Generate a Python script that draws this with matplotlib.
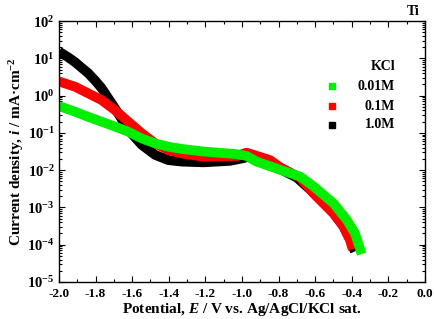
import matplotlib
matplotlib.use("Agg")
import matplotlib.pyplot as plt
from matplotlib.ticker import FuncFormatter, MultipleLocator, LogLocator, NullFormatter, FixedLocator
import numpy as np

plt.rcParams['font.family'] = ['Liberation Serif', 'DejaVu Serif']
plt.rcParams['font.weight'] = 'bold'
plt.rcParams['axes.unicode_minus'] = False
plt.rcParams['mathtext.fontset'] = 'custom'
plt.rcParams['mathtext.rm'] = 'Liberation Serif:bold'
plt.rcParams['mathtext.bf'] = 'Liberation Serif:bold'
plt.rcParams['mathtext.it'] = 'Liberation Serif:italic:bold'
plt.rcParams['mathtext.default'] = 'bf'

black_E = [-2.0, -1.95, -1.913, -1.84, -1.8, -1.767, -1.694, -1.621, -1.548, -1.475, -1.403,
           -1.33, -1.211, -1.066, -0.995, -0.95, -0.9, -0.8, -0.7, -0.61, -0.5, -0.446,
           -0.41, -0.39, -0.383]
black_logi = [1.18, 1.03, 0.9, 0.6, 0.39, 0.2, -0.34, -0.92, -1.32, -1.59, -1.73,
              -1.77, -1.79, -1.75, -1.68, -1.62, -1.7, -1.95, -2.2, -2.6, -3.15, -3.5,
              -3.85, -4.1, -4.18]

red_E = [-2.0, -1.913, -1.84, -1.767, -1.694, -1.621, -1.548, -1.475, -1.403, -1.33, -1.211,
         -1.029, -0.975, -0.847, -0.792, -0.683, -0.61, -0.5, -0.446, -0.41, -0.395]
red_logi = [0.38, 0.24, 0.06, -0.12, -0.39, -0.7, -1.01, -1.28, -1.46, -1.55, -1.64,
            -1.62, -1.53, -1.73, -1.92, -2.2, -2.62, -3.16, -3.51, -3.87, -4.12]

green_E = [-2.0, -1.913, -1.84, -1.767, -1.694, -1.621, -1.548, -1.475, -1.403, -1.33, -1.211,
           -1.029, -0.975, -0.92, -0.792, -0.683, -0.61, -0.5, -0.428, -0.383, -0.359, -0.346]
green_logi = [-0.28, -0.43, -0.57, -0.7, -0.83, -0.97, -1.15, -1.28, -1.37, -1.43, -1.5,
              -1.57, -1.62, -1.77, -1.99, -2.17, -2.43, -2.89, -3.33, -3.69, -4.05, -4.25]

labels = ["0.01M", "0.1M", "1.0M"]
colors = ["#00ee00", "#ff0000", "#000000"]
legend_title = "KCl"
panel_label = "Ti"
y_decades = list(range(-5, 3))
x_ticks = [-2.0, -1.8, -1.6, -1.4, -1.2, -1.0, -0.8, -0.6, -0.4, -0.2, 0.0]

fig = plt.figure(figsize=(4.35, 3.19), dpi=100)
ax = fig.add_axes([0.1356, 0.116, 0.8414, 0.818])

series = [(black_E, black_logi, colors[2]),
          (red_E, red_logi, colors[1]),
          (green_E, green_logi, colors[0])]
for E, li, c in series:
    ax.plot(E, 10 ** np.array(li), color=c, lw=7, solid_capstyle='butt',
            solid_joinstyle='round')

ax.set_yscale('log')
ax.set_xlim(-2.0, 0.0)
ax.set_xticks(x_ticks)
ax.xaxis.set_minor_locator(MultipleLocator(0.1))
ax.xaxis.set_major_formatter(FuncFormatter(lambda v, p: "0.0" if abs(v) < 1e-9 else f"{v:.1f}"))
ax.yaxis.set_major_locator(FixedLocator([10.0 ** k for k in y_decades]))
ax.yaxis.set_minor_locator(LogLocator(base=10, subs=np.arange(2, 10), numticks=20))
ax.yaxis.set_minor_formatter(NullFormatter())
ax.yaxis.set_major_formatter(FuncFormatter(lambda v, p: r"$\mathbf{10^{%d}}$" % int(round(np.log10(v)))))
ax.set_ylim(1e-5, 1e2)
ax.tick_params(which='both', direction='in', top=True, right=True, width=0.8)
ax.tick_params(axis='x', labelsize=9.5, pad=4)
ax.tick_params(axis='y', labelsize=10.5, pad=3)
ax.tick_params(which='major', length=4)
ax.tick_params(which='minor', length=2)
for lab in ax.get_xticklabels() + ax.get_yticklabels():
    lab.set_fontweight('bold')
for s in ax.spines.values():
    s.set_linewidth(1.0)

ax.set_xlabel(r"Potential, $\mathit{E}$ / V vs. Ag/AgCl/KCl sat.", fontsize=11,
              fontweight='bold', labelpad=1)
ax.set_ylabel(r"Current density, $\mathit{i}$ / mA·cm$^{\mathbf{-2}}$", fontsize=11,
              fontweight='bold', labelpad=1)

# legend (drawn manually to get right-aligned labels like the reference)
ax.text(0.918, 0.824, legend_title, transform=ax.transAxes, ha='right', va='center',
        fontsize=10, fontweight='bold')
leg_y = [0.751, 0.674, 0.602]
for lab, c, yy in zip(labels, colors, leg_y):
    ax.plot([0.747], [yy], transform=ax.transAxes, ls='none', marker='s', ms=4.5,
            color=c, mec=c)
    ax.text(0.918, yy, lab, transform=ax.transAxes, ha='right', va='center',
            fontsize=10, fontweight='bold')

fig.text(0.965, 0.965, panel_label, ha='right', va='center', fontsize=10, fontweight='bold')

fig.savefig("out.png", dpi=100)
